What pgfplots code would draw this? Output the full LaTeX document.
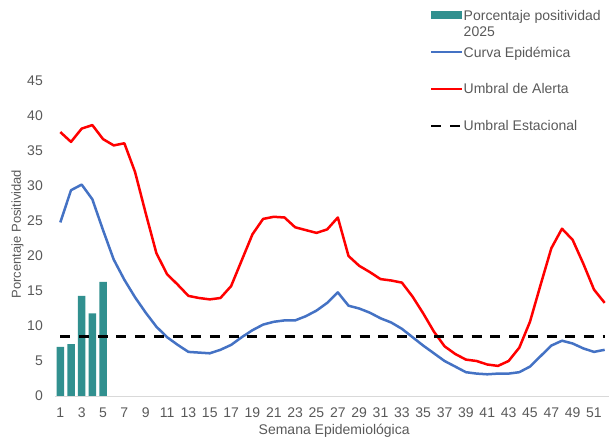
\documentclass[border=0pt]{standalone}
\usepackage{fontspec}
\setmainfont{Liberation Sans}
\usepackage{pgfplots}
\usepackage{pgfplotstable}
\pgfplotsset{compat=1.18}

\definecolor{barteal}{RGB}{49,144,143}
\definecolor{curvablue}{RGB}{68,114,196}
\definecolor{alertred}{RGB}{255,0,0}
\definecolor{txtgray}{RGB}{89,89,89}
\definecolor{axgray}{RGB}{217,217,217}

\pgfplotsset{
    barleg/.style={legend image code/.code={\fill[barteal] (0pt,-3.4pt) rectangle (30.5pt,3.9pt);}},
    lineleg/.style={legend image code/.code={\draw[##1] (0pt,0pt) -- (31pt,0pt);}},
}

% positividad 2025 (semanas 1-5)
\pgfplotstableread{
sem val
1 7.0
2 7.4
3 14.3
4 11.8
5 16.3
}\positividad

% curva epidemica y umbral de alerta
\pgfplotstableread{
sem curva alerta
1 24.8 37.7
2 29.4 36.3
3 30.2 38.2
4 28.1 38.7
5 23.7 36.7
6 19.5 35.8
7 16.6 36.1
8 14.1 32.0
9 11.9 26.1
10 9.9 20.4
11 8.4 17.4
12 7.3 15.9
13 6.3 14.3
14 6.2 14.0
15 6.1 13.8
16 6.6 14.0
17 7.3 15.7
18 8.4 19.4
19 9.4 23.1
20 10.2 25.3
21 10.6 25.6
22 10.8 25.5
23 10.8 24.1
24 11.4 23.7
25 12.2 23.3
26 13.3 23.8
27 14.8 25.5
28 12.9 20.0
29 12.5 18.6
30 11.9 17.7
31 11.1 16.7
32 10.5 16.5
33 9.6 16.2
34 8.4 14.2
35 7.2 11.8
36 6.1 9.2
37 5.0 7.1
38 4.2 6.0
39 3.4 5.2
40 3.2 5.0
41 3.1 4.5
42 3.2 4.3
43 3.2 5.0
44 3.4 6.9
45 4.2 10.6
46 5.7 15.9
47 7.2 21.1
48 7.9 23.9
49 7.5 22.3
50 6.8 18.9
51 6.3 15.2
52 6.6 13.3
}\curvas

\begin{document}
\begin{tikzpicture}
\useasboundingbox (0pt,0pt) rectangle (609pt,438pt);
\begin{axis}[
    at={(55pt,42pt)}, anchor=south west,
    scale only axis,
    width=555pt, height=315pt,
    xmin=0.5, xmax=52.5,
    ymin=0, ymax=45,
    xtick={1,3,...,51},
    ytick={0,5,...,45},
    major tick length=0pt,
    axis lines*=left,
    x axis line style={draw=axgray, line width=0.75pt},
    y axis line style={draw=none},
    /pgf/number format/assume math mode=true,
    tick label style={font=\fontsize{14}{16}\selectfont, text=txtgray, inner sep=0pt},
    xticklabel style={anchor=north, yshift=-12pt},
    yticklabel style={anchor=east, xshift=-12pt},
    xlabel={Semana Epidemiológica},
    xlabel style={at={(axis description cs:0.503,0)}, anchor=base, yshift=-38.5pt,
        font=\fontsize{14}{16}\selectfont, text=txtgray, inner sep=0pt},
    ylabel={Porcentaje Positividad},
    ylabel style={at={(axis description cs:-0.0613,0.514)}, anchor=base,
        font=\fontsize{13}{15}\selectfont, text=txtgray, inner sep=0pt},
    legend cell align=left,
    legend style={
        at={(axis description cs:0.6757,1.2254)}, anchor=north west,
        draw=none, fill=none, inner sep=0pt, row sep=26.9pt,
        font=\fontsize{14}{16}\selectfont, text=txtgray,
        nodes={inner sep=0pt, text height=10pt, text depth=0pt},
        /tikz/every even column/.append style={column sep=2pt},
    },
]

\addplot[ybar, bar width=7.5pt, fill=barteal, draw=none, barleg]
    table[x=sem, y=val] {\positividad};
\addlegendentry{\smash{\begin{tabular}[t]{@{}l@{}}Porcentaje positividad\\2025\end{tabular}}}

\addplot[curvablue, line width=2.5pt, line join=round, mark=none, lineleg]
    table[x=sem, y=curva] {\curvas};
\addlegendentry{Curva Epidémica}

\addplot[alertred, line width=2.5pt, line join=round, mark=none, lineleg]
    table[x=sem, y=alerta] {\curvas};
\addlegendentry{Umbral de Alerta}

\addplot[black, line width=2.5pt, dash pattern=on 10pt off 8.7pt, mark=none, lineleg]
    coordinates {(1,8.5) (52,8.5)};
\addlegendentry{Umbral Estacional}

\end{axis}
\end{tikzpicture}
\end{document}
